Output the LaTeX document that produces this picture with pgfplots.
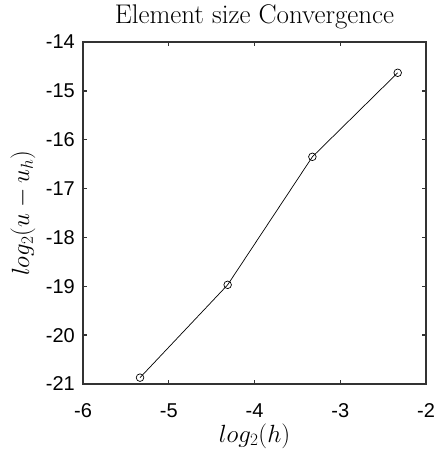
\documentclass[border=0pt]{standalone}
\usepackage{fontspec}
\usepackage{pgfplots}
\pgfplotsset{compat=1.18}
\newfontfamily\ticksfont{Liberation Sans}

\begin{document}
\begin{tikzpicture}
\begin{axis}[
  scale only axis,
  width=343pt, height=342pt,
  xmin=-6, xmax=-2, ymin=-21, ymax=-14,
  xtick={-6,-5,-4,-3,-2},
  ytick={-21,-20,...,-14},
  tick align=inside,
  major tick length=4.5pt,
  axis line style={line width=1.6pt, color=black!80},
  tick style={line width=1.4pt, color=black!80},
  /pgf/number format/assume math mode=true,
  ticklabel style={font=\ticksfont\fontsize{20}{22}\selectfont},
  xticklabel style={anchor=base, inner sep=0pt, yshift=-33pt},
  yticklabel style={anchor=east, inner sep=0pt, xshift=-8pt},
  title={Element size Convergence},
  title style={font=\fontsize{27}{30}\selectfont,
    at={(axis description cs:0.5,1.037)}, anchor=base, inner sep=0pt},
  xlabel={$log_2(h)$},
  ylabel={$log_2(u-u_h)$},
  label style={font=\fontsize{25}{28}\selectfont, inner sep=0pt},
  xlabel style={at={(axis description cs:0.5,-0.170)}, anchor=base},
  ylabel style={at={(axis description cs:-0.157,0.5)}, anchor=base},
]
\addplot[black, line width=0.7pt, mark=o, mark size=3.8pt,
  mark options={line width=0.7pt}] coordinates {
  (-5.335, -20.87)
  (-4.313, -18.97)
  (-3.325, -16.35)
  (-2.33, -14.63)
};
\end{axis}
\pgfresetboundingbox
\useasboundingbox (current axis.south west) ++(-83pt,-66pt)
  (current axis.north east) ++(10pt,42pt);
\end{tikzpicture}
\end{document}
